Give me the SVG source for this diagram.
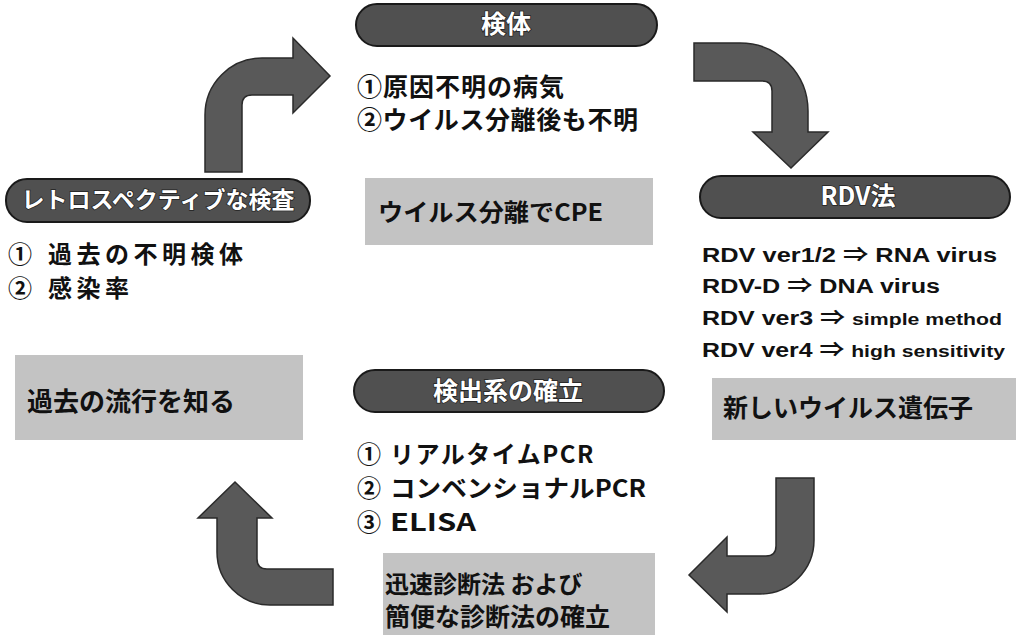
<svg xmlns="http://www.w3.org/2000/svg" width="1016" height="639" viewBox="0 0 1016 639">
<defs>
<style>
.pill{fill:#505050;stroke:#1a1a1a;stroke-width:2}
.pt{fill:#fff;stroke:#222;stroke-width:1.5;paint-order:stroke;font-family:"Noto Sans CJK JP","Liberation Sans",sans-serif;font-weight:bold;text-anchor:middle}
.box{fill:#c3c3c3}
.t{fill:#111;font-family:"Noto Sans CJK JP","Liberation Sans",sans-serif;font-weight:bold}
.lt{fill:#111;font-family:"Liberation Sans","Noto Sans CJK JP",sans-serif;font-weight:bold}
.arr{fill:#595959;stroke:#2a2a2a;stroke-width:1.5}
</style>
</defs>
<rect width="1016" height="639" fill="#fff"/>
<g id="connectors">
<path class="arr" d="M205,172 L205,115 A57,57 0 0 1 262,58 L293,58 L293,38 L330,76 L293,113 L293,95 L252,95 Q242,95 242,105 L242,172 Z"/>
<path class="arr" d="M694,43 L740,43 A68,68 0 0 1 808,111 L808,132 L828,132 L791,168 L753,132 L772,132 L772,91 Q772,81 762,81 L694,81 Z"/>
<path class="arr" d="M776,478 L814,478 L814,540 A54,54 0 0 1 760,594 L727,594 L727,612 L689,575 L727,537 L727,556 L766,556 Q776,556 776,546 Z"/>
<path class="arr" d="M333,569 L333,605 L270,605 A53,53 0 0 1 217,552 L217,518 L198,518 L235,482 L272,518 L257,518 L257,559 Q257,569 267,569 Z"/>
</g>
<g id="specimen">
<rect class="pill" x="356" y="4" width="301" height="42" rx="21"/>
<text class="pt" x="506" y="33" font-size="25">検体</text>
<text class="t" x="357" y="96" font-size="25" letter-spacing="1">①原因不明の病気</text>
<text class="t" x="357" y="129" font-size="25" letter-spacing="0.6">②ウイルス分離後も不明</text>
</g>
<g id="cpe">
<rect class="box" x="365" y="178" width="288" height="67"/>
<text class="t" x="378" y="221" font-size="24" textLength="225" lengthAdjust="spacingAndGlyphs">ウイルス分離でCPE</text>
</g>
<g id="rdv">
<rect class="pill" x="700" y="176" width="310" height="42" rx="21"/>
<text class="pt" x="858" y="205" font-size="25">RDV法</text>
<text class="lt" x="702" y="262" font-size="20" textLength="295" lengthAdjust="spacingAndGlyphs">RDV ver1/2 ⇒ RNA virus</text>
<text class="lt" x="702" y="293" font-size="20" textLength="238" lengthAdjust="spacingAndGlyphs">RDV-D ⇒ DNA virus</text>
<text class="lt" x="702" y="325" font-size="20" textLength="300" lengthAdjust="spacingAndGlyphs"><tspan>RDV ver3 ⇒ </tspan><tspan font-size="17">simple method</tspan></text>
<text class="lt" x="702" y="357" font-size="20" textLength="303" lengthAdjust="spacingAndGlyphs"><tspan>RDV ver4 ⇒ </tspan><tspan font-size="17">high sensitivity</tspan></text>
</g>
<g id="newgene">
<rect class="box" x="712" y="378" width="304" height="62"/>
<text class="t" x="723" y="417" font-size="25">新しいウイルス遺伝子</text>
</g>
<g id="retro">
<rect class="pill" x="6" y="179" width="304" height="43" rx="21"/>
<text class="pt" x="158" y="208" font-size="23">レトロスペクティブな検査</text>
<text class="t" x="8" y="263" font-size="24">①</text>
<text class="t" x="48" y="263" font-size="24" letter-spacing="4.5">過去の不明検体</text>
<text class="t" x="8" y="297" font-size="24">②</text>
<text class="t" x="48" y="297" font-size="24" letter-spacing="4.5">感染率</text>
</g>
<g id="past">
<rect class="box" x="15" y="355" width="288" height="85"/>
<text class="t" x="27" y="411" font-size="26">過去の流行を知る</text>
</g>
<g id="detect">
<rect class="pill" x="354" y="370" width="310" height="42" rx="21"/>
<text class="pt" x="508" y="400" font-size="25">検出系の確立</text>
<text class="t" x="357" y="463" font-size="24">①</text>
<text class="t" x="390" y="463" font-size="24" letter-spacing="1.5">リアルタイムPCR</text>
<text class="t" x="357" y="497" font-size="24">②</text>
<text class="t" x="390" y="497" font-size="24" textLength="256" lengthAdjust="spacingAndGlyphs">コンベンショナルPCR</text>
<text class="t" x="357" y="531" font-size="24">③</text>
<text class="t" x="390" y="531" font-size="24" textLength="86" lengthAdjust="spacingAndGlyphs">ELISA</text>
</g>
<g id="diagnosis">
<rect class="box" x="383" y="553" width="272" height="82"/>
<text class="t" x="385" y="593" font-size="24">迅速診断法 および</text>
<text class="t" x="385" y="626" font-size="25">簡便な診断法の確立</text>
</g>
</svg>
